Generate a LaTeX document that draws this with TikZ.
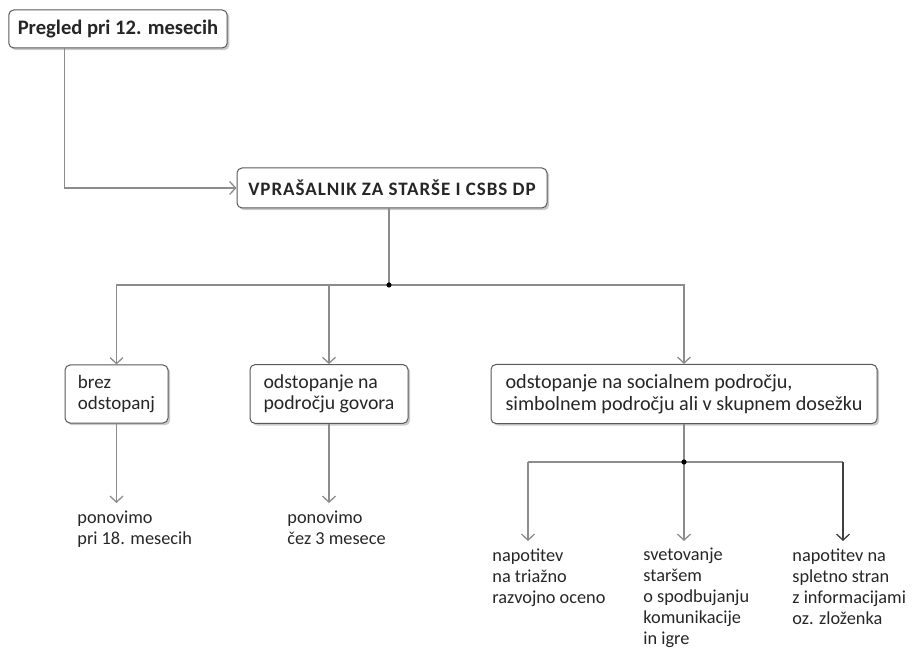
\documentclass[tikz,border=0pt]{standalone}
\usepackage{fontspec}
\setmainfont{Carlito}
\usepackage{xcolor}
\usepackage{tikz}
\usetikzlibrary{arrows.meta,positioning,shadows}

\definecolor{boxline}{gray}{0.35}
\definecolor{wire}{gray}{0.55}
\definecolor{ink}{gray}{0.15}

\begin{document}
\begin{tikzpicture}[
    x=0.5pt, y=-0.5pt,
    font=\fontsize{9.15}{10.5}\selectfont,
    text=ink,
    >={Straight Barb[length=3pt, width=6.5pt]},
    box/.style     ={draw=boxline, line width=0.5pt, rounded corners=2.5pt,
                     fill=white, align=left, inner xsep=4.5pt, inner ysep=5pt,
                     font=\fontsize{9.9}{10.8}\selectfont,
                     drop shadow={shadow xshift=1.1pt, shadow yshift=-1.1pt,
                                  fill=black!35, opacity=0.6}},
    head/.style    ={box, font=\fontsize{10.3}{12}\selectfont\bfseries},
    caps/.style    ={box, font=\fontsize{9.5}{11}\selectfont\bfseries
                     \addfontfeatures{LetterSpace=5}},
    outlbl/.style  ={align=left, anchor=north west, inner sep=0pt},
    flow/.style    ={->, line width=0.65pt, draw=wire},
    wire/.style    ={line width=0.65pt, draw=wire},
    dot/.style     ={fill=black, radius=1.3pt}
]
\useasboundingbox (0,0) rectangle (918,657);

% --- Top: checkup and questionnaire. ---
\node[head, minimum width=109pt, minimum height=19pt] (checkup) at (118,29)
  {Pregled pri 12. mesecih};
\node[caps, minimum width=155pt, minimum height=20pt] (quest) at (392,188)
  {VPRAŠALNIK ZA STARŠE I CSBS DP};

\draw[flow] ([xshift=28pt]checkup.south west) |- (quest.west);

% --- Three outcomes of the questionnaire. ---
\node[box, minimum width=51.5pt, minimum height=29pt,
      font=\fontsize{9.5}{10.8}\selectfont] (none) at (116.5,394)
  {brez\\odstopanj};
\node[box, minimum width=79pt, minimum height=29pt]   (speech) at (329,394)
  {odstopanje na\\področju govora};
\node[box, minimum width=193pt, minimum height=29pt,
      font=\fontsize{10.1}{10.8}\selectfont] (social) at (684,394)
  {odstopanje na socialnem področju,\\simbolnem področju ali v skupnem dosežku};

\coordinate (split1) at (389,285);
\draw[wire] (quest.south -| split1) -- (split1);
\draw[flow] (split1) -| (none.north);
\draw[flow] (split1) -| (speech.north);
\draw[flow] (split1) -| (social.north);
\fill (split1) circle[dot];

% --- Follow-up texts under the first two boxes. ---
\node[outlbl] (again18) at (77,511)  {ponovimo\\pri 18. mesecih};
\node[outlbl] (again3)  at (287,511) {ponovimo\\čez 3 mesece};

\draw[flow] (none.south)   -- (none.south |- 0,503);
\draw[flow] (speech.south) -- (speech.south |- 0,503);

% --- Three referrals under the social box. ---
\coordinate (split2) at (684,462);
\coordinate (tipA)   at (528,541);
\coordinate (tipB)   at (684,541);
\coordinate (tipC)   at (843,541);

\node[outlbl] (triage) at (492,548) {napotitev\\na triažno\\razvojno oceno};
\node[outlbl] (advice) at (643,548)
  {svetovanje\\staršem\\o spodbujanju\\komunikacije\\in igre};
\node[outlbl] (web)    at (792,548)
  {napotitev na\\spletno stran\\z informacijami\\oz. zloženka};

\draw[wire] (social.south) -- (split2);
\draw[wire] (tipA |- split2) -- (tipC |- split2);
\draw[flow] (tipA |- split2) -- (tipA);
\draw[flow] (split2) -- (tipB);
\draw[flow, draw=black!75] (tipC |- split2) -- (tipC);
\fill (split2) circle[dot];

\end{tikzpicture}
\end{document}
